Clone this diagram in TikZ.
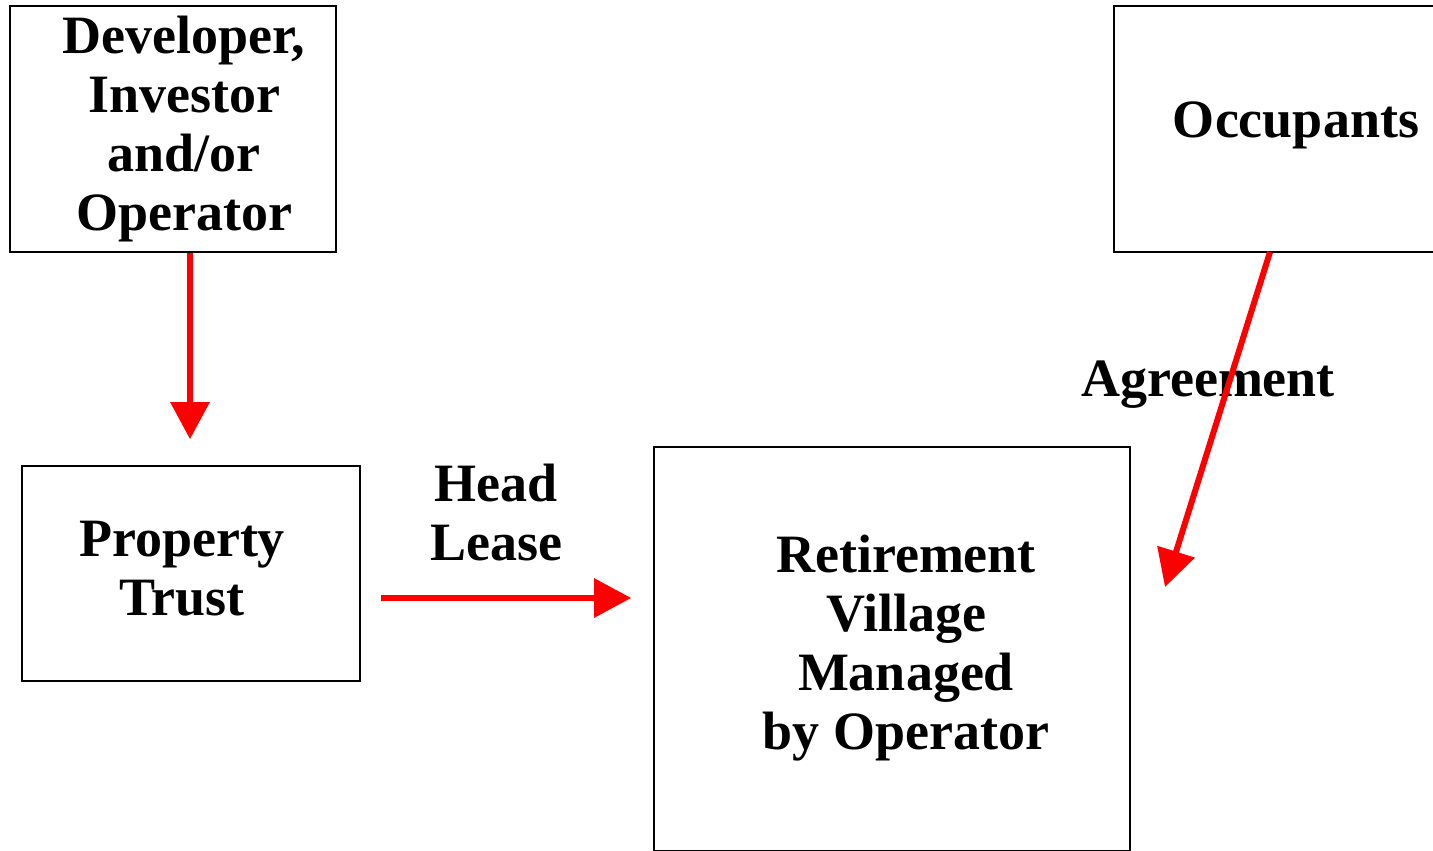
\documentclass[tikz,border=0pt]{standalone}
\usepackage{fontspec}
\setmainfont{Liberation Serif}
\usetikzlibrary{arrows.meta}
\tikzset{
  box/.style={draw, line width=1.6pt, rectangle, inner sep=0pt},
  txt/.style={align=center, inner sep=0pt, font=\fontsize{54}{59}\selectfont\bfseries},
  arr/.style={draw=red, line width=6pt, -{Triangle[length=37pt, width=38pt]}}
}
\begin{document}
\begin{tikzpicture}[x=1pt, y=-1pt]
\useasboundingbox (0,0) rectangle (1433,851);
\clip (0,0) rectangle (1433,851);
% boxes
\node[box, minimum width=326pt, minimum height=246pt] (dev) at (173,129){};
\node[box, minimum width=364pt, minimum height=246pt] (occ) at (1296,129){};
\node[box, minimum width=338pt, minimum height=215pt] (trust) at (191,573.5){};
\node[box, minimum width=476pt, minimum height=404pt] (village) at (892,649){};
% texts
\node[txt] (devText) at (184,129){Developer,\\Investor\\and/or\\Operator};
\node[txt] (occText) at (1296,125){Occupants};
\node[txt] (trustText) at (182,569){Property\\Trust};
\node[txt] (villageText) at (906,648){Retirement\\Village\\Managed\\by Operator};
\node[txt] (leaseText) at (496,513){Head\\Lease};
\node[txt] (agreeText) at (1208,385){Agreement};
% connectors
\coordinate (agreeStart) at (1270,252);
\coordinate (agreeEnd) at (1165,587);
\draw[arr, shorten >=26pt] (dev.south -| 190,0) -- (trust.north -| 190,0);
\draw[arr, shorten <=20pt, shorten >=22pt] (trust.east |- 0,598) -- (village.west |- 0,598);
\draw[arr] (agreeStart) -- (agreeEnd);
\end{tikzpicture}
\end{document}
